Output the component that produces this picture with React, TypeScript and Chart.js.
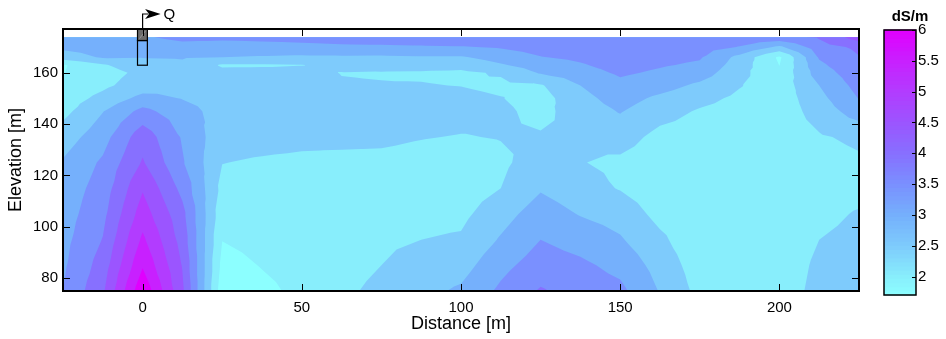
import React, { useEffect, useRef } from "react";
import { Chart, registerables } from "chart.js";

Chart.register(...registerables);

const FONT = "'Liberation Sans', Arial, Helvetica, sans-serif";

// ---- data ----
const distances = [-25, -12.5, 0, 12.5, 25, 37.5, 50, 62.5, 75, 87.5, 100, 112.5, 125, 137.5, 150, 162.5, 175, 187.5, 200, 212.5, 225];
const elevations = [75, 85, 95, 105, 115, 125, 135, 145, 150, 155, 160, 163, 166, 170, 173.8];
// electrical conductivity (dS/m); one row per elevation (bottom to top), one value per distance
const ec75 = [3.5, 4.42, 6.4, 4.6, 1.7, 1.9, 2.1, 2.42, 2.6, 2.85, 3.08, 3.6, 4.05, 3.8, 3.62, 2.97, 2.35, 2.3, 2.25, 2.65, 2.75];
const ec85 = [3.42, 4.22, 5.95, 4.47, 1.85, 2.02, 2.15, 2.35, 2.5, 2.68, 2.8, 3.35, 3.75, 3.6, 3.35, 2.8, 2.25, 2.2, 2.2, 2.6, 2.7];
const ec95 = [3.35, 4.02, 5.6, 4.3, 2.01, 2.12, 2.2, 2.3, 2.42, 2.5, 2.56, 3.05, 3.5, 3.3, 3.05, 2.6, 2.15, 2.1, 2.15, 2.5, 2.65];
const ec105 = [3.27, 3.86, 5.25, 4.15, 2.18, 2.2, 2.25, 2.28, 2.35, 2.35, 2.38, 2.8, 3.25, 2.97, 2.8, 2.35, 2.1, 2.05, 2.1, 2.35, 2.55];
const ec115 = [3.2, 3.72, 4.95, 3.85, 2.35, 2.3, 2.3, 2.3, 2.35, 2.3, 2.25, 2.5, 2.95, 2.7, 2.47, 2.2, 2.1, 2.05, 2.1, 2.25, 2.3];
const ec125 = [3.05, 3.58, 4.55, 3.55, 2.51, 2.45, 2.42, 2.4, 2.4, 2.35, 2.3, 2.4, 2.75, 2.52, 2.4, 2.2, 2.15, 2.1, 2.1, 2.3, 2.42];
const ec135 = [2.75, 3.3, 4.3, 3.45, 2.68, 2.65, 2.6, 2.6, 2.58, 2.52, 2.48, 2.52, 2.55, 2.6, 2.72, 2.35, 2.25, 2.15, 2.15, 2.45, 2.6];
const ec145 = [2.35, 2.98, 3.65, 3.2, 2.8, 2.75, 2.7, 2.72, 2.72, 2.68, 2.65, 2.6, 2.35, 2.75, 3.03, 2.7, 2.45, 2.3, 2.2, 2.72, 3.25];
const ec150 = [2.22, 2.65, 3.15, 2.98, 2.78, 2.78, 2.75, 2.7, 2.68, 2.65, 2.62, 2.52, 2.3, 2.85, 3.2, 2.9, 2.65, 2.4, 2.2, 2.85, 3.52];
const ec155 = [2.1, 2.4, 2.75, 2.9, 2.7, 2.75, 2.68, 2.53, 2.52, 2.52, 2.49, 2.4, 2.45, 3.0, 3.35, 3.2, 2.9, 2.53, 2.2, 3.0, 3.68];
const ec160 = [1.98, 2.3, 2.62, 2.85, 2.6, 2.65, 2.6, 2.49, 2.47, 2.45, 2.42, 2.55, 3.05, 3.28, 3.58, 3.42, 3.25, 2.65, 2.1, 3.25, 3.82];
const ec163 = [1.95, 2.45, 2.8, 2.9, 2.45, 2.45, 2.49, 2.62, 2.7, 2.7, 2.65, 2.95, 3.25, 3.45, 3.7, 3.55, 3.42, 2.75, 1.99, 3.4, 3.9];
const ec166 = [2.75, 3.05, 3.02, 3.04, 3.0, 2.96, 2.92, 2.93, 2.92, 2.95, 2.95, 3.2, 3.48, 3.6, 3.78, 3.65, 3.55, 2.85, 1.92, 3.55, 3.98];
const ec170 = [3.12, 3.2, 3.2, 3.35, 3.3, 3.3, 3.35, 3.4, 3.42, 3.45, 3.47, 3.55, 3.7, 3.8, 3.85, 3.78, 3.72, 3.48, 2.9, 3.8, 4.1];
const ec174 = [3.25, 3.35, 3.45, 3.62, 3.6, 3.65, 3.7, 3.75, 3.78, 3.8, 3.85, 3.92, 3.95, 3.96, 3.95, 3.9, 3.85, 3.75, 3.9, 4.05, 4.75];
const conductivity = [ec75, ec85, ec95, ec105, ec115, ec125, ec135, ec145, ec150, ec155, ec160, ec163, ec166, ec170, ec174];

const contourLevels = [2, 2.5, 3, 3.5, 4, 4.5, 5, 5.5, 6];
const distanceTicks = [0, 50, 100, 150, 200];
const elevationTicks = [80, 100, 120, 140, 160];
const colorbarTicks = [2, 2.5, 3, 3.5, 4, 4.5, 5, 5.5, 6];
const colorbarMin = 1.7;
const colorbarMax = 6;
const colormapValues = [1.7, 2, 2.5, 3, 3.5, 4, 4.5, 5, 5.5, 6];
const colormapRGB = [
  [140, 255, 255],
  [136, 238, 252],
  [126, 203, 252],
  [117, 176, 252],
  [122, 144, 255],
  [135, 112, 255],
  [155, 85, 255],
  [178, 60, 255],
  [200, 32, 255],
  [224, 0, 255],
];

// well (Q) position in data units
const wellDistance = 0;
const wellLeft = -1.6;
const wellRight = 1.5;
const casingBottom = 172.5;
const screenBottom = 162.9;

// ---- helpers ----
function colormap(v: number): string {
  const vs = colormapValues;
  let c = colormapRGB[0];
  if (v >= vs[vs.length - 1]) c = colormapRGB[vs.length - 1];
  else if (v > vs[0]) {
    for (let i = 0; i < vs.length - 1; i++) {
      if (v <= vs[i + 1]) {
        const t = (v - vs[i]) / (vs[i + 1] - vs[i]);
        const a = colormapRGB[i];
        const b = colormapRGB[i + 1];
        c = [0, 1, 2].map((k) => Math.round(a[k] + t * (b[k] - a[k])));
        break;
      }
    }
  }
  return `rgb(${c[0]},${c[1]},${c[2]})`;
}

type P = { x: number; y: number; v: number };

function clipAbove(poly: P[], level: number): P[] {
  const out: P[] = [];
  const n = poly.length;
  for (let i = 0; i < n; i++) {
    const p = poly[i];
    const q = poly[(i + 1) % n];
    const pin = p.v >= level;
    const qin = q.v >= level;
    if (pin) out.push(p);
    if (pin !== qin) {
      const t = (level - p.v) / (q.v - p.v);
      out.push({ x: p.x + t * (q.x - p.x), y: p.y + t * (q.y - p.y), v: level });
    }
  }
  return out;
}

const contourPlugin = {
  id: "contourFill",
  beforeDatasetsDraw(chart: any) {
    const { ctx, chartArea, scales } = chart;
    const xs = scales.x;
    const ys = scales.y;
    const px = distances.map((d) => xs.getPixelForValue(d));
    const py = elevations.map((e) => ys.getPixelForValue(e));
    ctx.save();
    ctx.beginPath();
    ctx.rect(chartArea.left, chartArea.top, chartArea.right - chartArea.left, chartArea.bottom - chartArea.top);
    ctx.clip();
    const nx = distances.length;
    const ny = elevations.length;
    ctx.fillStyle = colormap(colorbarMin);
    ctx.fillRect(px[0], py[ny - 1], px[nx - 1] - px[0], py[0] - py[ny - 1]);
    const tris: P[][] = [];
    for (let j = 0; j < ny - 1; j++) {
      for (let i = 0; i < nx - 1; i++) {
        const a = { x: px[i], y: py[j], v: conductivity[j][i] };
        const b = { x: px[i + 1], y: py[j], v: conductivity[j][i + 1] };
        const c = { x: px[i + 1], y: py[j + 1], v: conductivity[j + 1][i + 1] };
        const d = { x: px[i], y: py[j + 1], v: conductivity[j + 1][i] };
        const e = { x: (a.x + b.x) / 2, y: (a.y + d.y) / 2, v: (a.v + b.v + c.v + d.v) / 4 };
        tris.push([a, b, e], [b, c, e], [c, d, e], [d, a, e]);
      }
    }
    for (const level of contourLevels) {
      ctx.beginPath();
      for (const t of tris) {
        const poly = clipAbove(t, level);
        if (poly.length < 3) continue;
        ctx.moveTo(poly[0].x, poly[0].y);
        for (let k = 1; k < poly.length; k++) ctx.lineTo(poly[k].x, poly[k].y);
        ctx.closePath();
      }
      ctx.fillStyle = colormap(level);
      ctx.fill();
    }
    ctx.restore();
  },
  afterDraw(chart: any) {
    const { ctx, chartArea, scales } = chart;
    const xs = scales.x;
    const ys = scales.y;
    const { left, right, top, bottom } = chartArea;
    ctx.save();
    // well casing + screen
    const xl = xs.getPixelForValue(wellLeft);
    const xr = xs.getPixelForValue(wellRight);
    const yc = ys.getPixelForValue(casingBottom);
    const yscr = ys.getPixelForValue(screenBottom);
    ctx.fillStyle = "#6b6b6b";
    ctx.fillRect(xl, top, xr - xl, yc - top);
    ctx.strokeStyle = "#a0a0a0";
    ctx.lineWidth = 0.8;
    ctx.beginPath();
    ctx.moveTo(xr - 2, top + 2);
    ctx.lineTo(xl + 2, yc - 2);
    ctx.stroke();
    ctx.strokeStyle = "#000";
    ctx.lineWidth = 1.2;
    ctx.strokeRect(xl, top, xr - xl, yc - top);
    ctx.strokeRect(xl, yc, xr - xl, yscr - yc);

    // ticks (inward) and frame
    ctx.lineWidth = 1;
    ctx.beginPath();
    for (const v of distanceTicks) {
      const x = Math.round(xs.getPixelForValue(v)) + 0.5;
      ctx.moveTo(x, bottom);
      ctx.lineTo(x, bottom - 7);
      ctx.moveTo(x, top);
      ctx.lineTo(x, top + 7);
    }
    for (const v of elevationTicks) {
      const y = Math.round(ys.getPixelForValue(v)) + 0.5;
      ctx.moveTo(left, y);
      ctx.lineTo(left + 7, y);
      ctx.moveTo(right, y);
      ctx.lineTo(right - 7, y);
    }
    ctx.stroke();
    ctx.lineWidth = 2;
    ctx.strokeRect(left, top, right - left, bottom - top);

    // arrow to Q
    const xw = xs.getPixelForValue(wellDistance);
    const ya = 14;
    ctx.lineWidth = 1.2;
    ctx.beginPath();
    ctx.moveTo(xw, top);
    ctx.lineTo(xw, ya);
    ctx.lineTo(xw + 6, ya);
    ctx.stroke();
    ctx.fillStyle = "#000";
    ctx.beginPath();
    ctx.moveTo(xw + 18, ya);
    ctx.lineTo(xw + 2.5, ya - 5);
    ctx.lineTo(xw + 6.5, ya);
    ctx.lineTo(xw + 2.5, ya + 5);
    ctx.closePath();
    ctx.fill();
    ctx.font = `15px ${FONT}`;
    ctx.textAlign = "left";
    ctx.textBaseline = "middle";
    ctx.fillText("Q", xw + 21, ya + 0.5);
    ctx.restore();
  },
};

const colorbarPlugin = {
  id: "colorbarCells",
  beforeDatasetsDraw(chart: any) {
    const { ctx, chartArea, scales } = chart;
    const ys = scales.y;
    const n = 64;
    ctx.save();
    for (let i = 0; i < n; i++) {
      const v0 = colorbarMin + (i * (colorbarMax - colorbarMin)) / n;
      const v1 = colorbarMin + ((i + 1) * (colorbarMax - colorbarMin)) / n;
      const y0 = ys.getPixelForValue(v0);
      const y1 = ys.getPixelForValue(v1);
      ctx.fillStyle = colormap((v0 + v1) / 2);
      ctx.fillRect(chartArea.left, y1 - 0.5, chartArea.right - chartArea.left, y0 - y1 + 1);
    }
    ctx.restore();
  },
  afterDraw(chart: any) {
    const { ctx, chartArea, scales } = chart;
    const ys = scales.y;
    const { left, right, top, bottom } = chartArea;
    ctx.save();
    ctx.strokeStyle = "#000";
    ctx.lineWidth = 1;
    ctx.beginPath();
    for (const v of colorbarTicks) {
      const y = Math.round(ys.getPixelForValue(v)) + 0.5;
      ctx.moveTo(right, y);
      ctx.lineTo(right - 4, y);
    }
    ctx.stroke();
    ctx.lineWidth = 1.5;
    ctx.strokeRect(left, top, right - left, bottom - top);
    ctx.fillStyle = "#000";
    ctx.font = `bold 15px ${FONT}`;
    ctx.textAlign = "center";
    ctx.textBaseline = "alphabetic";
    ctx.fillText("dS/m", (left + right) / 2 + 10, 21);
    ctx.restore();
  },
};

export default function App() {
  const mainRef = useRef<HTMLCanvasElement>(null);
  const barRef = useRef<HTMLCanvasElement>(null);

  useEffect(() => {
    Chart.defaults.font.family = FONT;
    Chart.defaults.color = "#000";
    const main = new Chart(mainRef.current as HTMLCanvasElement, {
      type: "scatter",
      data: { datasets: [{ data: [] }] },
      options: {
        animation: false,
        responsive: false,
        devicePixelRatio: 1,
        layout: { padding: { left: 0, top: 29, right: 87, bottom: 0 } },
        plugins: { legend: { display: false }, tooltip: { enabled: false } },
        scales: {
          x: {
            type: "linear",
            min: -25,
            max: 225,
            grid: { display: false, drawTicks: false, tickLength: 0 },
            border: { display: false },
            afterBuildTicks: (s: any) => {
              s.ticks = distanceTicks.map((v) => ({ value: v }));
            },
            afterFit: (s: any) => {
              s.height = 48;
            },
            ticks: {
              padding: 8,
              maxRotation: 0,
              autoSkip: false,
              color: "#000",
              font: { size: 15, family: FONT },
              callback: (v: any) => String(v),
            },
            title: {
              display: true,
              text: "Distance [m]",
              color: "#000",
              font: { size: 18, family: FONT },
              padding: { top: 0, bottom: 4 },
            },
          },
          y: {
            type: "linear",
            min: 75,
            max: 177,
            grid: { display: false, drawTicks: false, tickLength: 0 },
            border: { display: false },
            afterBuildTicks: (s: any) => {
              s.ticks = elevationTicks.map((v) => ({ value: v }));
            },
            afterFit: (s: any) => {
              s.width = 63;
            },
            ticks: {
              padding: 5,
              autoSkip: false,
              color: "#000",
              font: { size: 15, family: FONT },
              callback: (v: any) => String(v),
            },
            title: {
              display: true,
              text: "Elevation [m]",
              color: "#000",
              font: { size: 18, family: FONT },
              padding: { top: 5, bottom: 0 },
            },
          },
        },
      },
      plugins: [contourPlugin],
    } as any);

    const bar = new Chart(barRef.current as HTMLCanvasElement, {
      type: "scatter",
      data: { datasets: [{ data: [] }] },
      options: {
        animation: false,
        responsive: false,
        devicePixelRatio: 1,
        layout: { padding: { left: 24, top: 30, right: 0, bottom: 44 } },
        plugins: { legend: { display: false }, tooltip: { enabled: false } },
        scales: {
          x: { type: "linear", display: false, min: 0, max: 1 },
          y: {
            type: "linear",
            position: "right",
            min: colorbarMin,
            max: colorbarMax,
            grid: { display: false, drawTicks: false, tickLength: 0 },
            border: { display: false },
            afterBuildTicks: (s: any) => {
              s.ticks = colorbarTicks.map((v) => ({ value: v }));
            },
            afterFit: (s: any) => {
              s.width = 30;
            },
            ticks: {
              padding: 2,
              autoSkip: false,
              color: "#000",
              font: { size: 15, family: FONT },
              callback: (v: any) => String(v),
            },
          },
        },
      },
      plugins: [colorbarPlugin],
    } as any);

    return () => {
      main.destroy();
      bar.destroy();
    };
  }, []);

  return (
    <div style={{ position: "fixed", left: 0, top: 0, width: 946, height: 339, background: "#fff" }}>
      <canvas ref={mainRef} width={946} height={339} style={{ position: "absolute", left: 0, top: 0 }} />
      <canvas ref={barRef} width={86} height={339} style={{ position: "absolute", left: 860, top: 0 }} />
    </div>
  );
}
